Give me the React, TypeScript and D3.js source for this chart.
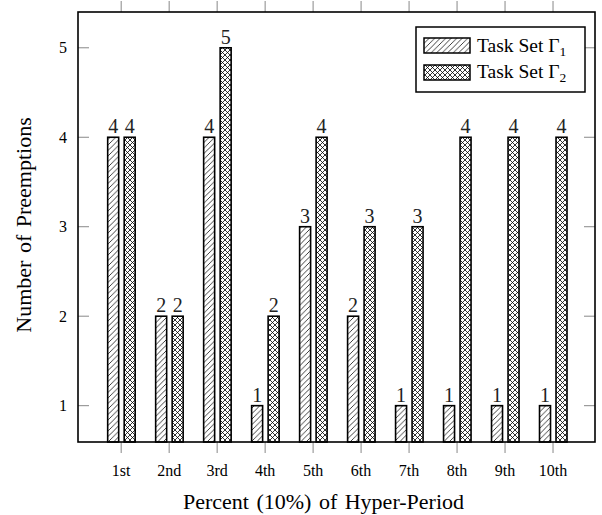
import React from "react";
import * as d3 from "d3";

const categories = ["1st", "2nd", "3rd", "4th", "5th", "6th", "7th", "8th", "9th", "10th"];
const gamma1 = [4, 2, 4, 1, 3, 2, 1, 1, 1, 1];
const gamma2 = [4, 2, 5, 2, 4, 3, 3, 4, 4, 4];
const yTicks = [1, 2, 3, 4, 5];

const W = 602;
const H = 515;
const left = 78, right = 595, top = 12, bottom = 442;
const FONT = "'Liberation Serif', 'Times New Roman', serif";

export default function App() {
  const x = d3.scaleLinear().domain([0.1, 10.875]).range([left, right]);
  const y = d3.scaleLinear().domain([0.594, 5.4]).range([bottom, top]);
  const barW = 11;
  const series = [
    { values: gamma1, offset: -8, fill: "url(#hatchNE)" },
    { values: gamma2, offset: 8.5, fill: "url(#crossHatch)" },
  ];
  const tickLen = 11;
  return (
    <svg width={W} height={H} style={{ position: "absolute", left: 0, top: 0, background: "#fff" }} fontFamily={FONT}>
      <defs>
        <pattern id="hatchNE" patternUnits="userSpaceOnUse" width={5.5} height={5.5}>
          <path d="M-1,1 l2,-2 M0,5.5 l5.5,-5.5 M4.5,6.5 l2,-2" stroke="#000" strokeWidth={0.75} />
        </pattern>
        <pattern id="crossHatch" patternUnits="userSpaceOnUse" width={5} height={5}>
          <path d="M0,0 L5,5 M5,0 L0,5" stroke="#000" strokeWidth={0.8} />
        </pattern>
      </defs>
      <rect x={0} y={0} width={W} height={H} fill="#fff" />
      {/* x ticks */}
      {categories.map((c, i) => (
        <g key={c}>
          <line x1={x(i + 1)} x2={x(i + 1)} y1={bottom} y2={bottom + tickLen} stroke="#888" strokeWidth={1} />
          <line x1={x(i + 1)} x2={x(i + 1)} y1={top} y2={top - tickLen} stroke="#888" strokeWidth={1} />
          <text x={x(i + 1)} y={476} textAnchor="middle" fontSize={16} fill="#000">{c}</text>
        </g>
      ))}
      {/* y ticks */}
      {yTicks.map((t) => (
        <g key={t}>
          <line x1={left} x2={left + tickLen} y1={y(t)} y2={y(t)} stroke="#888" strokeWidth={1} />
          <line x1={right} x2={right - tickLen} y1={y(t)} y2={y(t)} stroke="#888" strokeWidth={1} />
          <text x={67} y={y(t)} dy="0.35em" textAnchor="end" fontSize={16} fill="#000">{t}</text>
        </g>
      ))}
      {/* bars */}
      {series.map((s, si) =>
        s.values.map((v, i) => {
          const cx = x(i + 1) + s.offset;
          return (
            <g key={`${si}-${i}`}>
              <rect x={cx - barW / 2} y={y(v)} width={barW} height={bottom - y(v)} fill={s.fill} stroke="#000" strokeWidth={1.6} />
              <text x={cx} y={y(v) - 4} textAnchor="middle" fontSize={20} fill="#222">{v}</text>
            </g>
          );
        })
      )}
      {/* axis box */}
      <rect x={left} y={top} width={right - left} height={bottom - top} fill="none" stroke="#000" strokeWidth={1.6} />
      {/* legend */}
      <g>
        <rect x={416} y={27} width={169} height={65} fill="#fff" stroke="#000" strokeWidth={1.5} />
        <rect x={424} y={38} width={46} height={15} fill="url(#hatchNE)" stroke="#000" strokeWidth={1.5} />
        <rect x={424} y={65} width={46} height={15} fill="url(#crossHatch)" stroke="#000" strokeWidth={1.5} />
        <text x={477} y={51.5} fontSize={19.5} fill="#000">
          Task Set Γ<tspan fontSize={13.5} dy={4}>1</tspan>
        </text>
        <text x={477} y={77.5} fontSize={19.5} fill="#000">
          Task Set Γ<tspan fontSize={13.5} dy={4}>2</tspan>
        </text>
      </g>
      {/* axis titles */}
      <text x={323.5} y={509} textAnchor="middle" fontSize={22} wordSpacing={2} fill="#000">
        Percent (10%) of Hyper-Period
      </text>
      <text transform={`translate(31,225) rotate(-90)`} textAnchor="middle" fontSize={22} wordSpacing={2} fill="#000">
        Number of Preemptions
      </text>
    </svg>
  );
}
